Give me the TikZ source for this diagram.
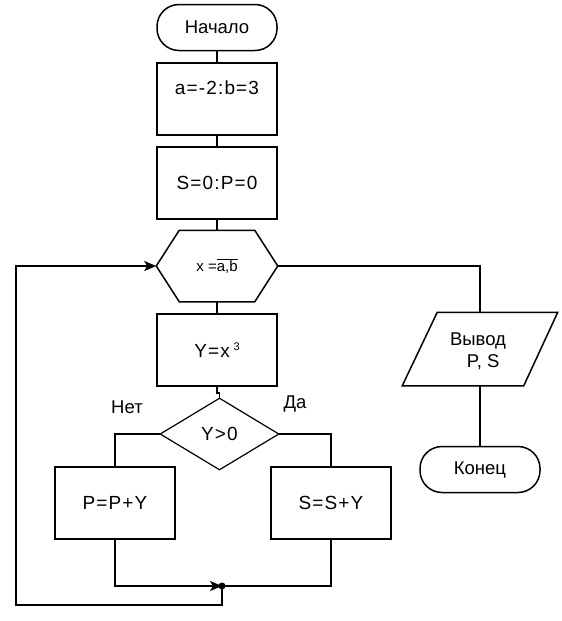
\documentclass[tikz,border=0pt]{standalone}
\usepackage{fontspec}
\setmainfont{Liberation Sans}
\newfontfamily\formfont{Liberation Sans}[LetterSpace=6]
\usetikzlibrary{arrows.meta}
\begin{document}
\begin{tikzpicture}[x=1pt,y=-1pt,
  line width=1.5pt,
  txt/.style={font=\fontsize{18.5}{22}\selectfont},
  ftxt/.style={font=\fontsize{19}{22}\formfont},
  term/.style={draw,rounded corners=22pt,minimum width=120pt,minimum height=46pt,inner sep=0pt,txt},
  proc/.style={draw,minimum width=120pt,minimum height=72pt,inner sep=0pt,ftxt},
  ghost/.style={minimum width=#1,inner sep=0pt,txt},
  conn/.style={line width=1.5pt},
  loopline/.style={line width=2.6pt},
  tip/.style={-{Stealth[length=12pt,width=10pt,inset=3pt]}}
]
\useasboundingbox (0,0) rectangle (562,621);

\node[term] (start) at (217,27.5) {Начало};
\node[proc,label={[ftxt,yshift=11pt]center:a=-2:b=3}] (b1) at (217,99) {};
\node[proc] (b2) at (217,183) {S=0:P=0};
\node[ghost=120pt,minimum height=70pt] (hex) at (217,266) {};
\draw (hex.west) -- ([xshift=23pt]hex.north west) -- ([xshift=-23pt]hex.north east)
  -- (hex.east) -- ([xshift=-23pt]hex.south east) -- ([xshift=23pt]hex.south west) -- cycle;
\node[font=\fontsize{15}{17}\selectfont] (hext) at (217,266) {x =$\overline{\mbox{a,b}}$};
\node[proc] (b3) at (217,350) {Y=x\raisebox{7pt}{\fontsize{11}{13}\selectfont\ 3}};
\node[ghost=117pt,minimum height=70pt] (dia) at (219.5,434) {};
\draw[line width=1.2pt] (dia.west) -- (dia.north) -- (dia.east) -- (dia.south) -- cycle;
\node[ftxt] (diat) at (219.5,434) {Y>0};
\node[proc] (pl) at (115,503) {P=P+Y};
\node[proc] (sl) at (331,503) {S=S+Y};
\node[txt] (net) at (127,407) {Нет};
\node[txt] (da) at (295,404) {Да};

\node[ghost=120pt,minimum height=72pt] (out) at (480,349) {};
\draw ([xshift=18pt]out.north west) -- ([xshift=17pt]out.north east)
  -- ([xshift=-17pt]out.south east) -- ([xshift=-17pt]out.south west) -- cycle;
\node[txt,align=center] (outt) at (478,351) {Вывод\\\ \ P, S};
\node[term] (end) at (480,469.5) {Конец};

\coordinate (j) at (222,586);
\coordinate (lb) at (16,605);

\draw[conn] (start) -- (b1);
\draw[conn] (b1) -- (b2);
\draw[conn] (b2.south) -- (hex.north);
\draw[conn] (hex.south) -- (b3.north);
\draw[conn] (b3.south) -- ++(0,6) -| (dia.north);
\draw[conn] (dia.west) -| (pl.north);
\draw[conn] (dia.east) -| (sl.north);
\draw[conn] (sl.south) |- (j);
\draw[conn,tip] (pl.south) |- (j);
\fill (j) circle (3.5pt);
\draw[loopline,tip] (j) |- (lb) |- (hex.west);
\draw[conn] (hex.east) -| (out.north);
\draw[conn] (out.south) -- (end.north);
\end{tikzpicture}
\end{document}
